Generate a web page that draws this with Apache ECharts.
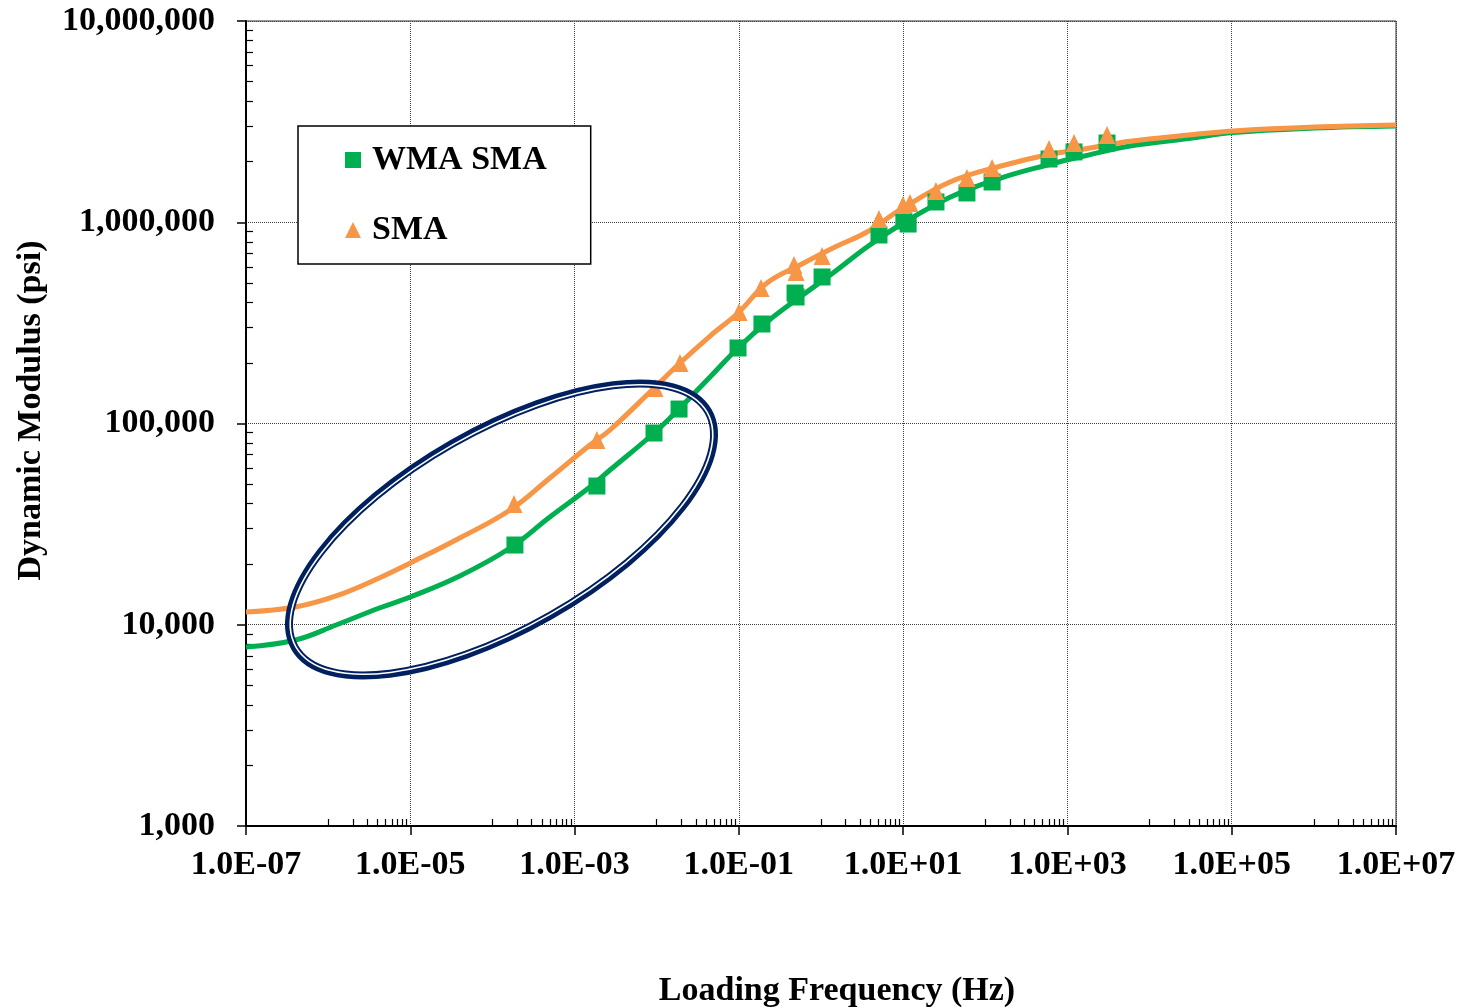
<!DOCTYPE html>
<html>
<head>
<meta charset="utf-8">
<script src="https://cdn.jsdelivr.net/npm/echarts@6/dist/echarts.min.js"></script>
<style>
    html, body { margin: 0; padding: 0; background: #fff; }
    #chart { width: 1463px; height: 1008px; }
</style>
</head>
<body>
<div id="chart"></div>
<script>
// fitted master curves
const curveFreq = [1e-7, 4e-7, 1.25e-6, 4.2e-6, 1e-5, 4e-5, 1.64e-4, 5e-4, 1.54e-3, 2.7e-3, 9.3e-3, 0.0192, 0.0446, 0.0977, 0.22, 0.555, 1.4, 3.63, 9.16, 37.2, 151, 614, 1549, 5781, 30000, 103800, 1.03e6, 1e7]
const wmaCurve = [7750, 8400, 9970, 12110, 13740, 17470, 24060, 34300, 48360, 58730, 89700, 119400, 170300, 237300, 319400, 425200, 559600, 753400, 968900, 1331000, 1654000, 1942000, 2128000, 2392000, 2607000, 2793000, 2940000, 3008000]
const smaCurve = [11570, 12250, 13900, 17080, 20270, 26980, 37170, 53610, 78220, 92830, 150100, 199800, 272000, 354100, 499100, 613200, 744700, 894400, 1151000, 1585000, 1898000, 2177000, 2305000, 2526000, 2713000, 2841000, 2973000, 3042000]

// measured points
const wmaFreq = [1.88e-4, 1.87e-3, 9.27e-3, 0.0187, 0.0977, 0.191, 0.483, 0.497, 1.03, 5.08, 10.2, 11.5, 25.1, 59.8, 121, 597, 1203, 3034]
const wmaModulus = [24900, 48900, 89700, 118000, 237300, 312200, 445000, 425200, 534600, 864300, 1014000, 980000, 1261000, 1398000, 1585000, 2062000, 2235000, 2476000]
const smaFreq = [1.83e-4, 1.87e-3, 9.53e-3, 0.0192, 0.1005, 0.186, 0.469, 0.497, 1.03, 5.08, 9.95, 12.1, 25.1, 59.8, 121, 597, 1203, 3034]
const smaModulus = [39800, 82800, 150100, 199800, 358100, 471400, 613200, 566000, 679700, 1038000, 1218000, 1246000, 1430000, 1659000, 1860000, 2312000, 2476000, 2714000]

// axis ticks
const xTicks = [1e-7, 1e-5, 1e-3, 1e-1, 1e1, 1e3, 1e5, 1e7]
const yTicks = [1e3, 1e4, 1e5, 1e6, 1e7]
const xMinorDecades = [1e-6, 1e-4, 1e-2, 1, 1e2, 1e4, 1e6]
const yMinorDecades = [1e3, 1e4, 1e5, 1e6]
const steps = [1, 2, 3, 4, 5, 6, 7, 8, 9]

const FONT = 'Liberation Serif'
const GREEN = '#00B050'
const ORANGE = '#F79646'
const NAVY = '#002060'

const xMinor = []
xMinorDecades.forEach(d => steps.forEach(s => xMinor.push(d * s)))
const yMinor = []
yMinorDecades.forEach(d => steps.slice(1).forEach(s => yMinor.push(d * s)))

const pairs = (xs, ys) => xs.map((x, i) => [x, ys[i]])

function sciLabel(v) {
    const e = Math.round(Math.log10(v))
    const sign = e < 0 ? '-' : '+'
    return '1.0E' + sign + String(Math.abs(e)).padStart(2, '0')
}

const myChart = echarts.init(document.getElementById('chart'))

const option = {
    animation: false,
    grid: {
        left: 246,
        right: 67,
        top: 21,
        bottom: 182,
        outerBoundsMode: 'none',
        containLabel: false,
        show: true,
        borderColor: '#303030',
        borderWidth: 1
    },
    legend: {
        left: 298,
        top: 126,
        orient: 'vertical',
        data: [
            { name: 'WMA SMA', icon: 'rect' },
            { name: 'SMA', icon: 'triangle' }
        ],
        itemWidth: 16,
        itemHeight: 16,
        itemGap: 36,
        padding: [17, 44, 17, 47],
        backgroundColor: '#fff',
        borderColor: '#000',
        borderWidth: 1.5,
        textStyle: {
            fontFamily: FONT,
            fontWeight: 'bold',
            fontSize: 34,
            color: '#000',
            lineHeight: 34,
            padding: [0, 0, 0, 6]
        }
    },
    xAxis: [
        {
            type: 'log',
            logBase: 10,
            min: 1e-7,
            max: 1e7,
            interval: 2,
            name: 'Loading Frequency (Hz)',
            nameLocation: 'middle',
            nameGap: 148,
            nameTextStyle: {
                fontFamily: FONT,
                fontWeight: 'bold',
                fontSize: 34,
                color: '#000',
                padding: [0, 0, 0, 32]
            },
            axisLine: { show: true, lineStyle: { color: '#000', width: 2 } },
            axisTick: { show: true, inside: false, length: 9, lineStyle: { color: '#000', width: 1.5 } },
            axisLabel: {
                customValues: xTicks,
                margin: 22,
                fontFamily: FONT,
                fontWeight: 'bold',
                fontSize: 34,
                color: '#000',
                formatter: sciLabel
            },
            splitLine: { show: true, lineStyle: { color: '#404040', type: 'dotted', width: 1 } },
            minorTick: { show: false },
            minorSplitLine: { show: false }
        },
        {
            type: 'log',
            logBase: 10,
            min: 1e-7,
            max: 1e7,
            position: 'bottom',
            axisLine: { show: false },
            axisLabel: { show: false },
            splitLine: { show: false },
            axisTick: {
                show: true,
                inside: true,
                length: 7,
                customValues: xMinor,
                lineStyle: { color: '#000', width: 1.2 }
            }
        }
    ],
    yAxis: [
        {
            type: 'log',
            logBase: 10,
            min: 1e3,
            max: 1e7,
            interval: 1,
            name: 'Dynamic Modulus (psi)',
            nameLocation: 'middle',
            nameGap: 198,
            nameTextStyle: {
                fontFamily: FONT,
                fontWeight: 'bold',
                fontSize: 34,
                color: '#000',
                padding: [0, 0, 0, 26]
            },
            axisLine: { show: true, lineStyle: { color: '#000', width: 2 } },
            axisTick: { show: true, inside: false, length: 9, lineStyle: { color: '#000', width: 1.5 } },
            axisLabel: {
                customValues: yTicks,
                margin: 31,
                fontFamily: FONT,
                fontWeight: 'bold',
                fontSize: 34,
                color: '#000',
                formatter(value) {
                    return Math.round(value).toLocaleString('en-US')
                }
            },
            splitLine: { show: true, lineStyle: { color: '#404040', type: 'dotted', width: 1 } }
        },
        {
            type: 'log',
            logBase: 10,
            min: 1e3,
            max: 1e7,
            position: 'left',
            axisLine: { show: false },
            axisLabel: { show: false },
            splitLine: { show: false },
            axisTick: {
                show: true,
                inside: true,
                length: 7,
                customValues: yMinor,
                lineStyle: { color: '#000', width: 1.2 }
            }
        }
    ],
    series: [
        {
            name: 'WMA SMA fit',
            type: 'line',
            data: pairs(curveFreq, wmaCurve),
            smooth: 0.4,
            showSymbol: false,
            lineStyle: { color: GREEN, width: 5 },
            z: 2
        },
        {
            name: 'SMA fit',
            type: 'line',
            data: pairs(curveFreq, smaCurve),
            smooth: 0.4,
            showSymbol: false,
            lineStyle: { color: ORANGE, width: 5 },
            z: 2
        },
        {
            name: 'WMA SMA',
            type: 'scatter',
            data: pairs(wmaFreq, wmaModulus),
            symbol: 'rect',
            symbolSize: 17,
            itemStyle: { color: GREEN, opacity: 1 },
            z: 3
        },
        {
            name: 'SMA',
            type: 'scatter',
            data: pairs(smaFreq, smaModulus),
            symbol: 'triangle',
            symbolSize: [17, 18],
            itemStyle: { color: ORANGE, opacity: 1 },
            z: 4
        }
    ]
}

myChart.setOption(option)

// highlight ellipse (double outline) around the low-frequency part
const ellipseCenter = [501.5, 529.5]
const ellipseRot = 29.7 * Math.PI / 180
myChart.setOption({
    graphic: [
        {
            type: 'ellipse',
            x: ellipseCenter[0],
            y: ellipseCenter[1],
            rotation: ellipseRot,
            shape: { cx: 0, cy: 0, rx: 238, ry: 99 },
            style: { fill: 'none', stroke: NAVY, lineWidth: 8 },
            z: 100
        },
        {
            type: 'ellipse',
            x: ellipseCenter[0],
            y: ellipseCenter[1],
            rotation: ellipseRot,
            shape: { cx: 0, cy: 0, rx: 236.7, ry: 97.7 },
            style: { fill: 'none', stroke: '#fff', lineWidth: 1.6 },
            z: 101
        }
    ]
})
</script>
</body>
</html>
